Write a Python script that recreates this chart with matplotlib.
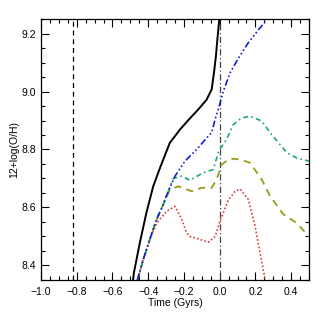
import numpy as np
import matplotlib
matplotlib.use("Agg")
import matplotlib.pyplot as plt
from matplotlib.ticker import MultipleLocator

# ---- data ----
black_t = [-0.485, -0.48, -0.447, -0.41, -0.372, -0.335, -0.279, -0.222, -0.17, -0.12,
           -0.073, -0.045, -0.032, -0.021, -0.013, -0.002]
black_y = [8.35, 8.375, 8.478, 8.582, 8.673, 8.735, 8.823, 8.869, 8.905, 8.938,
           8.972, 9.007, 9.064, 9.122, 9.179, 9.25]

blue_t = [-0.46, -0.428, -0.391, -0.353, -0.316, -0.299, -0.25, -0.194, -0.129, -0.064,
          -0.045, -0.026, -0.008, 0.02, 0.058, 0.10, 0.16, 0.22, 0.272]
blue_y = [8.35, 8.42, 8.49, 8.559, 8.61, 8.639, 8.708, 8.76, 8.80, 8.846,
          8.858, 8.903, 8.938, 9.0, 9.064, 9.11, 9.168, 9.215, 9.254]

green_t = [-0.46, -0.428, -0.391, -0.353, -0.316, -0.288, -0.26, -0.213, -0.166, -0.092,
           -0.036, -0.008, 0.0, 0.039, 0.076, 0.12, 0.17, 0.235, 0.29, 0.376, 0.43, 0.5]
green_y = [8.35, 8.42, 8.49, 8.559, 8.61, 8.655, 8.70, 8.708, 8.694, 8.72,
           8.731, 8.789, 8.80, 8.835, 8.886, 8.908, 8.915, 8.898, 8.852, 8.789, 8.771, 8.76]

olive_t = [-0.46, -0.428, -0.391, -0.353, -0.316, -0.297, -0.279, -0.232, -0.157, -0.101,
           -0.045, -0.017, 0.011, 0.048, 0.076, 0.12, 0.17, 0.235, 0.282, 0.357, 0.43, 0.5]
olive_y = [8.35, 8.42, 8.49, 8.559, 8.61, 8.635, 8.662, 8.673, 8.656, 8.668,
           8.668, 8.697, 8.748, 8.765, 8.768, 8.765, 8.754, 8.697, 8.639, 8.576, 8.547, 8.50]

red_t = [-0.46, -0.428, -0.391, -0.353, -0.335, -0.297, -0.25, -0.213, -0.185, -0.166, -0.11,
         -0.064, -0.025, 0.0, 0.048, 0.085, 0.114, 0.16, 0.198, 0.226, 0.254]
red_y = [8.35, 8.42, 8.49, 8.545, 8.559, 8.587, 8.604, 8.56, 8.513, 8.50, 8.49,
         8.48, 8.50, 8.55, 8.625, 8.655, 8.664, 8.628, 8.536, 8.444, 8.352]

vlines_t = [-0.82, 0.0]

x_ticks = [-1.0, -0.8, -0.6, -0.4, -0.2, 0.0, 0.2, 0.4]
x_labels = ["\u22121.0", "\u22120.8", "\u22120.6", "\u22120.4", "\u22120.2", "0.0", "0.2", "0.4"]
y_ticks = [8.4, 8.6, 8.8, 9.0, 9.2]
y_labels = ["8.4", "8.6", "8.8", "9.0", "9.2"]

# ---- figure ----
plt.rcParams["font.family"] = ["Liberation Sans", "DejaVu Sans"]
fig = plt.figure(figsize=(3.19, 3.19), dpi=100)
ax = fig.add_axes([0.1285, 0.1223, 0.8402, 0.8181])

ax.axvline(vlines_t[0], color="black", linestyle=(0, (4, 3)), linewidth=0.9)
ax.axvline(vlines_t[1], color="#444444", linestyle=(0, (5, 2, 1, 2)), linewidth=0.9)

ax.plot(red_t, red_y, color="#e03a3a", linestyle=(0, (1, 1.3)), linewidth=1.2)
ax.plot(olive_t, olive_y, color="#9a9a1a", linestyle=(0, (4, 3)), linewidth=1.3)
ax.plot(green_t, green_y, color="#1aa86e", linestyle=(0, (3, 2, 1, 2)), linewidth=1.2)
ax.plot(blue_t, blue_y, color="#1a1adb",
        linestyle=(0, (4, 1.5, 1, 1.5, 1, 1.5, 1, 1.5)), linewidth=1.2)
ax.plot(black_t, black_y, color="black", linewidth=1.4)

ax.set_xlim(-1.0, 0.5)
ax.set_ylim(8.35, 9.25)
ax.xaxis.set_minor_locator(MultipleLocator(0.05))
ax.yaxis.set_minor_locator(MultipleLocator(0.05))
ax.set_xticks(x_ticks)
ax.set_xticklabels(x_labels)
ax.set_yticks(y_ticks)
ax.set_yticklabels(y_labels)
ax.tick_params(which="both", direction="in", top=True, right=True, labelsize=7.5, width=0.8)
ax.tick_params(which="major", length=6)
ax.tick_params(which="minor", length=3)
ax.tick_params(axis="x", pad=5)
for s in ax.spines.values():
    s.set_linewidth(0.9)

ax.set_xlabel("Time (Gyrs)", fontsize=7.5, labelpad=1)
ax.set_ylabel("12+log(O/H)", fontsize=7.5, labelpad=2)

fig.savefig("out.png", dpi=100)
